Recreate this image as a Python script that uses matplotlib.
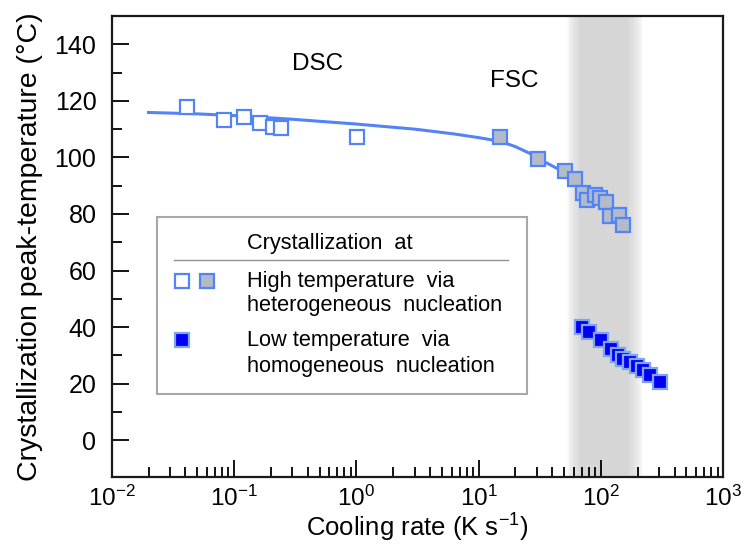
import numpy as np
import matplotlib
matplotlib.use('Agg')
import matplotlib.pyplot as plt
from matplotlib.patches import Rectangle

plt.rcParams['font.family'] = ['Liberation Sans', 'DejaVu Sans']
plt.rcParams['mathtext.fontset'] = 'custom'
plt.rcParams['mathtext.rm'] = 'Liberation Sans'
plt.rcParams['mathtext.it'] = 'Liberation Sans:italic'
plt.rcParams['mathtext.default'] = 'regular'
plt.rcParams['axes.unicode_minus'] = False

# DSC, open squares
dsc_rate = [0.041, 0.083, 0.121, 0.163, 0.207, 0.242, 1.01]
dsc_temp = [117.9, 113.2, 114.4, 112.2, 110.9, 110.5, 107.2]

# FSC, high temperature (heterogeneous), grey squares
fsc_hi_rate = [15.0, 30.8, 50.8, 61.4, 71.0, 77.4, 89.5, 98.4, 110.0, 118.7, 141.0, 150.7]
fsc_hi_temp = [107.1, 99.3, 95.1, 92.4, 87.3, 85.0, 86.8, 85.7, 84.4, 79.4, 79.8, 76.2]

# FSC, low temperature (homogeneous), blue squares
fsc_lo_rate = [70.5, 80.0, 99.6, 121.0, 139.0, 152.0, 173.0, 196.0, 222.0, 252.0, 304.0]
fsc_lo_temp = [40.0, 38.2, 35.5, 32.4, 30.0, 28.8, 27.6, 26.1, 24.7, 22.9, 20.6]

# guide line
fit_rate = [0.02, 0.05, 0.1, 0.3, 1.0, 3.0, 6.3, 10.0, 15.0, 20.0, 26.3, 31.6, 40.0, 50.0]
fit_temp = [115.9, 115.4, 114.8, 113.5, 111.8, 110.0, 108.3, 107.0, 105.7, 103.8, 101.4, 99.3, 97.0, 94.8]

# shaded rate window (outer edges, solid core)
band_outer = (52.0, 222.0)
band_core = (66.0, 170.0)

blue_line = '#5384f5'

fig = plt.figure(figsize=(7.46, 5.45), dpi=100)
ax = fig.add_axes([0.1497, 0.1248, 0.8199, 0.8458])
ax.set_xscale('log')
ax.set_xlim(1e-2, 1e3)
ax.set_ylim(-13, 150)

# soft-edged grey band
n = 16
lo_o, hi_o = np.log10(band_outer)
lo_c, hi_c = np.log10(band_core)
for i in range(n):
    f = (i + 1) / n
    lo = lo_o + (lo_c - lo_o) * f
    hi = hi_o - (hi_o - hi_c) * f
    ax.axvspan(10 ** lo, 10 ** hi, color='#d6d6d6', alpha=1.5 / n if i < n - 1 else 1.0,
               lw=0, zorder=0)

ax.plot(fit_rate, fit_temp, color=blue_line, lw=2.2, zorder=2)

ms = 10.5
ax.plot(dsc_rate, dsc_temp, 's', ms=ms, mfc='white', mec=blue_line, mew=1.6, zorder=3)
ax.plot(fsc_hi_rate, fsc_hi_temp, 's', ms=ms, mfc='#b3bac8', mec=blue_line, mew=1.6, zorder=3)
ax.plot(fsc_lo_rate, fsc_lo_temp, 's', ms=ms, mfc='#0000f5', mec='#80a4f0', mew=1.6, zorder=3)

ax.text(0.486, 133, 'DSC', fontsize=17.5, ha='center', va='center')
ax.text(19.5, 127, 'FSC', fontsize=17.5, ha='center', va='center')

# legend drawn by hand
ax.add_patch(Rectangle((0.074, 0.180), 0.605, 0.384, transform=ax.transAxes,
                       fill=True, fc='white', ec='#a8a8a8', lw=1.5, zorder=4))
ax.plot([0.102, 0.648], [0.4707, 0.4707], transform=ax.transAxes, color='#909090', lw=1.0, zorder=5)
ax.text(0.221, 0.5076, 'Crystallization  at', transform=ax.transAxes, fontsize=15.7,
        va='center', ha='left', zorder=5)
ax.plot([0.115], [0.425], 's', transform=ax.transAxes, ms=9.5, mfc='white', mec=blue_line, mew=1.6, zorder=5)
ax.plot([0.156], [0.425], 's', transform=ax.transAxes, ms=9.5, mfc='#b3bac8', mec=blue_line, mew=1.6, zorder=5)
ax.plot([0.115], [0.297], 's', transform=ax.transAxes, ms=9.5, mfc='#0000f5', mec='#80a4f0', mew=1.6, zorder=5)
for y, s in [(0.425, 'High temperature  via'), (0.371, 'heterogeneous  nucleation'),
             (0.297, 'Low temperature  via'), (0.2386, 'homogeneous  nucleation')]:
    ax.text(0.221, y, s, transform=ax.transAxes, fontsize=15.7, va='center', ha='left', zorder=5)

ax.set_yticks(np.arange(0, 141, 20))
ax.set_yticks(np.arange(10, 140, 20), minor=True)
ax.tick_params(which='both', direction='in', top=False, right=False, width=1.3, labelsize=18)
ax.tick_params(which='major', length=12)
ax.tick_params(which='minor', length=7)
ax.tick_params(axis='y', pad=11)
ax.tick_params(axis='x', pad=6, labelsize=17.5)
for sp in ax.spines.values():
    sp.set_linewidth(1.6)
    sp.set_color('#1a1a1a')

ax.set_xlabel('Cooling rate (K s$^{-1}$)', fontsize=18.5, labelpad=1)
ax.set_ylabel('Crystallization peak-temperature (°C)', fontsize=20.5, labelpad=8)

plt.savefig('out.png', dpi=100)
